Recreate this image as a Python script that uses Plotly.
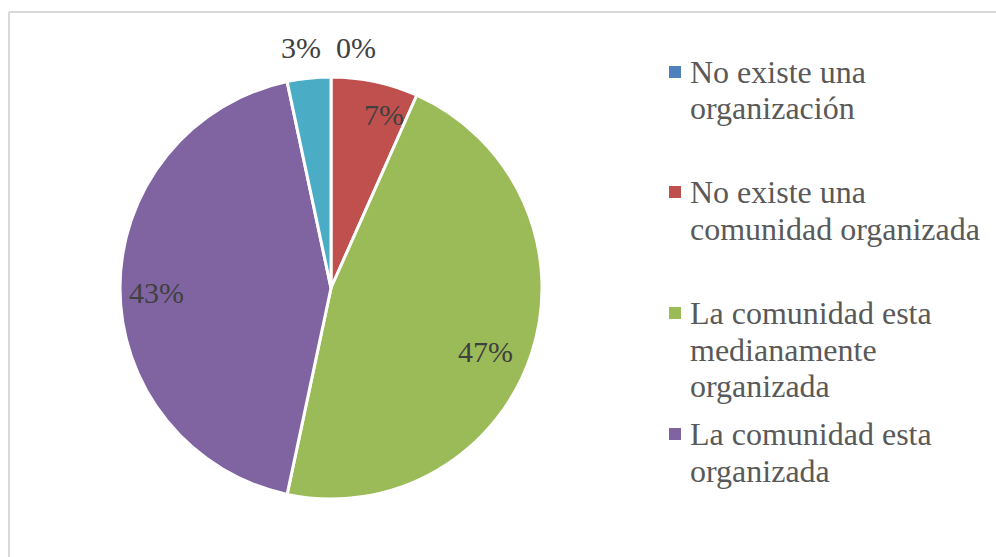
import math

import plotly.graph_objects as go

# Datos (respuestas sobre 30)
etiquetas = [
    "No existe una organización",
    "No existe una comunidad organizada",
    "La comunidad esta medianamente organizada",
    "La comunidad esta organizada",
    "Otro",
]
valores = [0, 2, 14, 13, 1]
porcentajes = ["0%", "7%", "47%", "43%", "3%"]
colores = ["#4F81BD", "#C0504D", "#9BBB59", "#8064A2", "#4BACC6"]

# Texto de la leyenda (solo cuatro entradas visibles en el original), línea a línea
leyenda_lineas = [
    ["No existe una", "organización"],
    ["No existe una", "comunidad organizada"],
    ["La comunidad esta", "medianamente", "organizada"],
    ["La comunidad esta", "organizada"],
]

W, H = 996, 557
FUENTE = "Liberation Serif"

# Geometría del pastel en píxeles
cx, cy, r = 331, 288, 211


def px_x(x):
    return x / W


def px_y(y):
    return 1 - y / H


fig = go.Figure()
fig.add_trace(go.Pie(
    labels=etiquetas,
    values=valores,
    sort=False,
    direction="clockwise",
    rotation=0,
    marker=dict(colors=colores, line=dict(color="white", width=3)),
    textinfo="none",
    hoverinfo="label+percent",
    showlegend=False,
    domain=dict(x=[px_x(cx - r), px_x(cx + r)], y=[px_y(cy + r), px_y(cy - r)]),
))

# Etiquetas de porcentaje: en el punto medio de cada porción
radio_etq = [1.145, 0.86, 0.79, 0.825, 1.15]
giro_etq = [6, 5, 4.5, -1.5, -1]
total = sum(valores)
acum = 0
anots = []
for i, v in enumerate(valores):
    medio = (acum + v / 2) / total * 360 + giro_etq[i]
    acum += v
    a = math.radians(medio)
    x = cx + r * radio_etq[i] * math.sin(a)
    y = cy - r * radio_etq[i] * math.cos(a)
    anots.append(dict(
        x=px_x(x), y=px_y(y), xref="paper", yref="paper",
        text=porcentajes[i], showarrow=False,
        xanchor="center", yanchor="middle",
        font=dict(family=FUENTE, size=30, color="#404040"),
    ))

# Leyenda dibujada a mano (línea base de la primera línea de cada entrada)
ley_base = [82, 202, 323, 444]
interlinea = 36.5
formas = []
for i, lineas in enumerate(leyenda_lineas):
    for j, txt in enumerate(lineas):
        base = ley_base[i] + j * interlinea
        anots.append(dict(
            x=px_x(688), y=px_y(base - 10), xref="paper", yref="paper",
            text=txt, showarrow=False, align="left",
            xanchor="left", yanchor="middle",
            font=dict(family=FUENTE, size=32, color="#595959"),
        ))
    formas.append(dict(
        type="rect", xref="paper", yref="paper",
        x0=px_x(669), x1=px_x(681),
        y0=px_y(ley_base[i] - 4), y1=px_y(ley_base[i] - 16),
        fillcolor=colores[i], line=dict(width=0),
    ))

# Borde gris del área del gráfico
formas.append(dict(type="line", xref="paper", yref="paper",
                   x0=px_x(9), x1=1.01, y0=px_y(12), y1=px_y(12),
                   line=dict(color="#D9D9D9", width=2)))
formas.append(dict(type="line", xref="paper", yref="paper",
                   x0=px_x(9), x1=px_x(9), y0=-0.01, y1=px_y(12),
                   line=dict(color="#D9D9D9", width=2)))

fig.update_layout(
    width=W, height=H,
    margin=dict(l=0, r=0, t=0, b=0),
    paper_bgcolor="white",
    plot_bgcolor="white",
    font=dict(family=FUENTE),
    annotations=anots,
    shapes=formas,
)

# quitar el margen por defecto del body para que el gráfico empiece en (0,0)
fig.write_html(
    "out.html",
    config={"displayModeBar": False},
    post_script="document.body.style.margin='0';document.body.style.overflow='hidden';",
)
